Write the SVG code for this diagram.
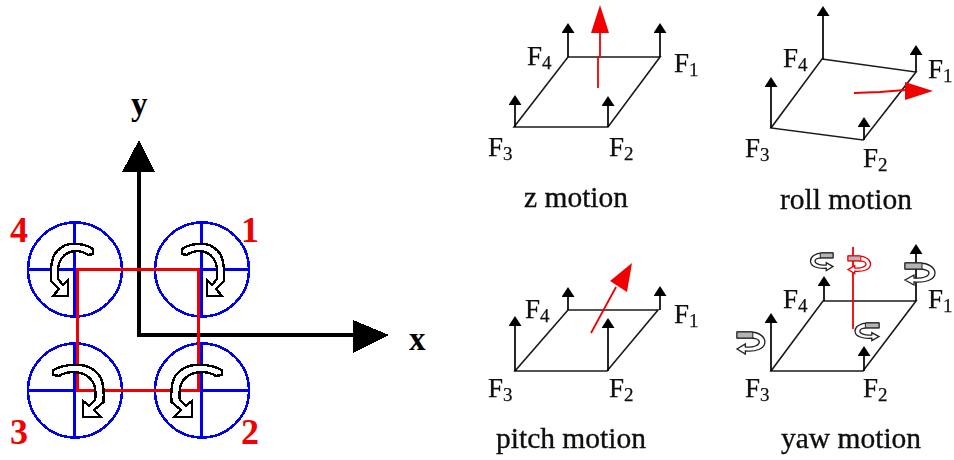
<svg xmlns="http://www.w3.org/2000/svg" width="954" height="460" viewBox="0 0 954 460">
<style>
text{font-family:"Liberation Serif","Times New Roman",serif;fill:#111}
.rotor circle{fill:none;stroke:#0000f0;stroke-width:2.6}
.rotor line{stroke:#0000f0;stroke-width:3}
.pix{shape-rendering:crispEdges}
.axis{stroke:#000;stroke-width:4;fill:none}
.frame{stroke:#f00000;stroke-width:3;fill:none}
.spin{fill:#fff;stroke:#000;stroke-width:2.4;vector-effect:non-scaling-stroke}
.num{font-size:36px;font-weight:bold;fill:#f00000;text-anchor:middle}
.ax{font-size:33px;font-weight:bold;fill:#000}
.f{font-size:27px;stroke:#111;stroke-width:.25}
.f tspan{font-size:19px}
.cap{font-size:29.5px;stroke:#111;stroke-width:.35}
.edge{stroke:#1a1a1a;stroke-width:1.6;fill:none}
.force{stroke:#000;stroke-width:1.7;fill:none;marker-end:url(#head)}
.red{stroke:#f00000;stroke-width:1.8;fill:none}
.redhead{fill:#f00000}
.curl{fill:#fff;stroke:currentColor;stroke-width:1.3;vector-effect:non-scaling-stroke}
.band{fill:#b4b4b4;stroke:currentColor;stroke-width:1;vector-effect:non-scaling-stroke}
</style>
<defs>
<marker id="head" viewBox="0 0 10 13" refX="0" refY="6.5" markerWidth="10" markerHeight="13" markerUnits="userSpaceOnUse" orient="auto">
<path d="M0,0 L10,6.5 L0,13 Z" fill="#000"/>
</marker>
<filter id="soft" x="-2%" y="-2%" width="104%" height="104%"><feGaussianBlur stdDeviation="0.45"/></filter>
<path id="spinarrow" class="spin" d="M-19,-20 C-10,-26 5,-27 12,-22 C20,-17 24,-10 23,12 L15,20 L21,27 L6,27 L6,11 L11,16 L16,10 C17,-3 15,-10 8,-15 C2,-19 -8,-19 -14,-14 L-19,-15 Z"/>
<g id="curl">
<path class="curl" d="M0,0 L14,0 C24,0 30,5 30,10 C30,17 20,20 9,19 L9,22 L0,17 L9,12 L9,15 C18,16 24,13 24,10 C24,7 18,6 14,6 L0,6 Z"/>
<path class="band" d="M0,0 H17 V6 H0 Z"/>
</g>
</defs>
<rect width="954" height="460" fill="#fff"/>

<g class="pix">
<g id="motor-4" class="rotor"><circle cx="75" cy="269.5" r="47"/><line x1="28" y1="269" x2="122" y2="269"/><line x1="74" y1="223" x2="74" y2="316"/></g>
<g id="motor-1" class="rotor"><circle cx="202" cy="269.5" r="47"/><line x1="155" y1="269" x2="248" y2="269"/><line x1="201" y1="223" x2="201" y2="316"/></g>
<g id="motor-3" class="rotor"><circle cx="75" cy="390.5" r="47"/><line x1="28" y1="390" x2="122" y2="390"/><line x1="74" y1="344" x2="74" y2="438"/></g>
<g id="motor-2" class="rotor"><circle cx="202" cy="390.5" r="47"/><line x1="155" y1="390" x2="248" y2="390"/><line x1="201" y1="344" x2="201" y2="438"/></g>

<g id="connectors">
<path class="axis" d="M139,170 V335 H355"/>
<polygon points="139,140 155,172 122,172" fill="#000"/>
<polygon points="353,320 389,335 353,353" fill="#000"/>
<path class="frame" d="M77,390 V269 H198 V390 Z"/>
</g>

<g id="spin-1"><use href="#spinarrow" transform="translate(201,269)"/></g>
<g id="spin-4"><use href="#spinarrow" transform="translate(74,269) scale(-1,1)"/></g>
<g id="spin-3"><use href="#spinarrow" transform="translate(76,390) scale(1.2,1)"/></g>
<g id="spin-2"><use href="#spinarrow" transform="translate(199,390) scale(-1.2,1)"/></g>
</g>

<g id="labels-left">
<text class="ax" x="131" y="115">y</text>
<text class="ax" x="409" y="350">x</text>
<text class="num" x="19" y="242">4</text>
<text class="num" x="250" y="242">1</text>
<text class="num" x="19" y="444">3</text>
<text class="num" x="250" y="444">2</text>
</g>

<g filter="url(#soft)">
<g id="z-motion">
<path class="edge" d="M568,57 H660 L608,127 H514 Z"/>
<line class="force" x1="568" y1="57" x2="568" y2="33"/>
<line class="force" x1="660" y1="57" x2="660" y2="33"/>
<line class="force" x1="515" y1="127" x2="515" y2="105"/>
<line class="force" x1="608" y1="127" x2="608" y2="106"/>
<path class="red" d="M598,88 V58 L600,56 V33"/>
<polygon class="redhead" points="600,5 609,33 591,33"/>
<text class="f" x="527" y="65">F<tspan dy="4">4</tspan></text>
<text class="f" x="674" y="72">F<tspan dy="4">1</tspan></text>
<text class="f" x="488" y="156">F<tspan dy="4">3</tspan></text>
<text class="f" x="609" y="156">F<tspan dy="4">2</tspan></text>
<text class="cap" x="524" y="207">z motion</text>
</g>

<g id="roll-motion">
<path class="edge" d="M822,59 L916,72 L863,140 L771,128 Z"/>
<line class="force" x1="823" y1="59" x2="823" y2="16"/>
<line class="force" x1="916" y1="72" x2="916" y2="55"/>
<line class="force" x1="771" y1="128" x2="771" y2="87"/>
<line class="force" x1="864" y1="140" x2="864" y2="127"/>
<path class="red" d="M854,93 L880,92 L905,90"/>
<polygon class="redhead" points="933,91 905,82 905,100"/>
<text class="f" x="783" y="67">F<tspan dy="4">4</tspan></text>
<text class="f" x="928" y="78">F<tspan dy="4">1</tspan></text>
<text class="f" x="745" y="157">F<tspan dy="4">3</tspan></text>
<text class="f" x="863" y="167">F<tspan dy="4">2</tspan></text>
<text class="cap" x="780" y="209">roll motion</text>
</g>

<g id="pitch-motion">
<path class="edge" d="M568,310 H658 L607,371 H515 Z"/>
<line class="force" x1="568" y1="310" x2="568" y2="297"/>
<line class="force" x1="660" y1="310" x2="660" y2="296"/>
<line class="force" x1="515" y1="371" x2="515" y2="326"/>
<line class="force" x1="608" y1="371" x2="608" y2="328"/>
<path class="red" d="M591,333 L616,287"/>
<polygon class="redhead" points="632,263 610,281 627,292"/>
<text class="f" x="525" y="318">F<tspan dy="4">4</tspan></text>
<text class="f" x="674" y="323">F<tspan dy="4">1</tspan></text>
<text class="f" x="488" y="397">F<tspan dy="4">3</tspan></text>
<text class="f" x="609" y="397">F<tspan dy="4">2</tspan></text>
<text class="cap" x="496" y="448">pitch motion</text>
</g>

<g id="yaw-motion">
<path class="edge" d="M823,301 H916 L863,371 H771 Z"/>
<line class="force" x1="824" y1="301" x2="824" y2="286"/>
<line class="force" x1="916" y1="301" x2="916" y2="254"/>
<line class="force" x1="771" y1="371" x2="771" y2="323"/>
<line class="force" x1="864" y1="371" x2="864" y2="356"/>
<line class="red" x1="853" y1="247" x2="853" y2="329"/>
<use href="#curl" transform="translate(833,253) scale(-.75,.8)" style="color:#222"/>
<use href="#curl" transform="translate(848,256) scale(.75,.8)" style="color:#f00000"/>
<use href="#curl" transform="translate(905,263)" style="color:#222"/>
<use href="#curl" transform="translate(879,323) scale(-.8,.8)" style="color:#222"/>
<use href="#curl" transform="translate(737,332) scale(.93,1)" style="color:#222"/>
<text class="f" x="783" y="308">F<tspan dy="4">4</tspan></text>
<text class="f" x="928" y="308">F<tspan dy="4">1</tspan></text>
<text class="f" x="745" y="397">F<tspan dy="4">3</tspan></text>
<text class="f" x="863" y="397">F<tspan dy="4">2</tspan></text>
<text class="cap" x="781" y="448">yaw motion</text>
</g>
</g>
</svg>
